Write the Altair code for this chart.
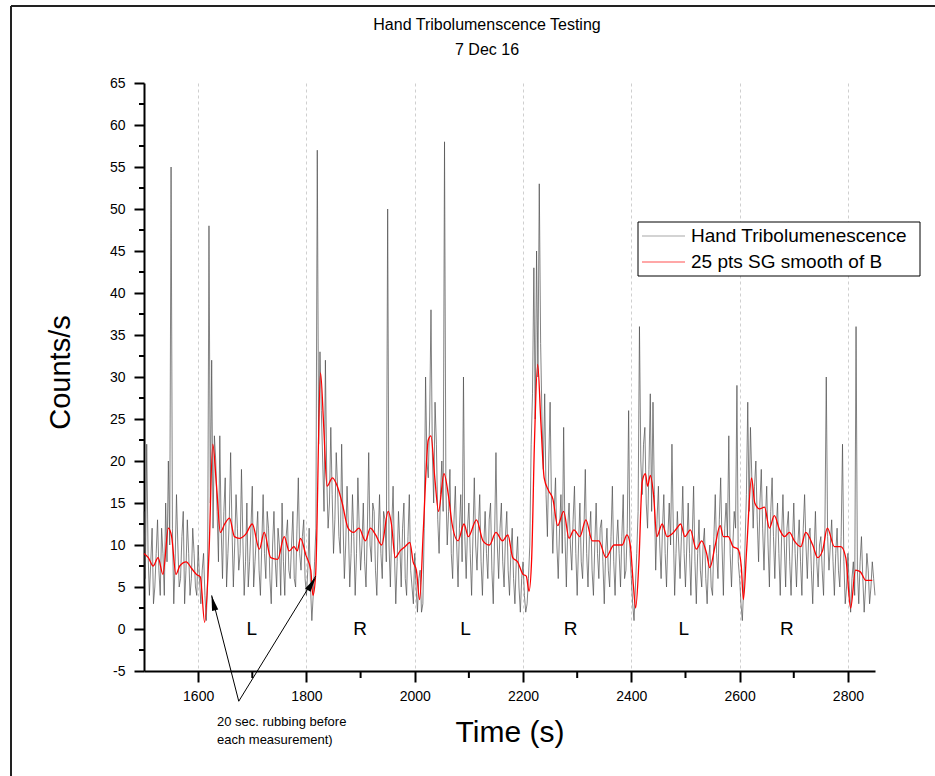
import altair as alt
import pandas as pd

FONT = "Liberation Sans"

# ---------------- data ----------------
# raw counts read on a 5 s grid starting at 1500 s ...
gray_start = 1500
gray_step = 5
gray_values = [
    14, 22, 4, 12, 5, 13, 4, 9, 15, 20, 55, 3, 16, 5, 11, 3, 13, 4, 12, 5,
    10, 3, 9, 1, 48, 32, 23, 14, 23, 6, 18, 9, 21, 5, 16, 7, 19, 4, 15, 8,
    17, 8, 14, 4, 16, 6, 12, 3, 14, 5, 10, 15, 4, 13, 6, 14, 5, 18, 7, 13,
    4, 12, 1, 8, 57, 33, 20, 32, 12, 24, 9, 21, 11, 22, 6, 17, 5, 16, 4, 18,
    7, 15, 5, 21, 8, 14, 4, 16, 6, 13, 50, 5, 17, 3, 14, 5, 15, 4, 16, 5,
    9, 2, 7, 3, 30, 18, 38, 15, 22, 9, 20, 58, 10, 19, 6, 17, 5, 16, 30, 6,
    15, 4, 18, 7, 16, 4, 14, 6, 15, 3, 21, 6, 15, 5, 14, 4, 12, 3, 11, 2,
    8, 2, 6, 22, 43, 45, 53, 25, 28, 11, 27, 9, 18, 6, 16, 24, 5, 15, 7, 17,
    4, 15, 6, 19, 5, 14, 4, 15, 6, 13, 3, 12, 5, 17, 4, 13, 5, 16, 7, 26,
    6, 1, 9, 36, 16, 24, 12, 28, 27, 7, 17, 6, 16, 5, 15, 22, 4, 14, 6, 17,
    5, 15, 4, 17, 3, 13, 5, 12, 3, 10, 4, 16, 6, 18, 4, 15, 23, 5, 14, 29,
    6, 1, 10, 27, 24, 12, 20, 8, 19, 7, 17, 5, 18, 6, 15, 4, 16, 5, 14, 4,
    15, 5, 13, 4, 16, 6, 12, 3, 14, 5, 11, 4, 30, 7, 13, 4, 12, 5, 22, 3,
    9, 2, 8, 36, 3, 11, 2, 9, 3, 8, 4,
]
# ... and the readings in between (1502.5 s, 1507.5 s, ...)
gray_mid_values = [
    6, 9, 8, 3, 9, 7, 12, 4, 8, 10, 12, 8, 10, 6, 14, 7, 9, 6, 9, 4,
    6, 7, 4, 6, 15, 12, 20, 8, 12, 14, 5, 13, 12, 10, 12, 9, 11, 8, 5, 12,
    5, 11, 7, 10, 9, 14, 6, 10, 8, 12, 4, 8, 11, 7, 10, 6, 12, 9, 11, 6,
    7, 5, 4, 12, 22, 26, 14, 18, 15, 16, 13, 17, 9, 13, 10, 12, 9, 11, 9, 12,
    10, 8, 12, 10, 15, 7, 11, 9, 14, 8, 10, 12, 9, 8, 10, 12, 6, 11, 7, 3,
    5, 6, 2, 12, 20, 25, 21, 27, 13, 16, 14, 17, 14, 9, 13, 10, 12, 8, 11, 12,
    9, 11, 10, 12, 8, 10, 9, 13, 7, 11, 10, 12, 8, 11, 7, 9, 6, 8, 5, 6,
    4, 3, 10, 28, 25, 30, 34, 19, 16, 20, 15, 14, 10, 12, 9, 11, 12, 10, 13, 9,
    10, 8, 12, 9, 11, 7, 10, 9, 12, 8, 9, 7, 11, 8, 10, 9, 11, 6, 12, 9,
    3, 5, 14, 20, 22, 15, 19, 14, 16, 13, 10, 12, 9, 11, 10, 12, 9, 10, 11, 9,
    10, 9, 11, 8, 9, 7, 10, 6, 8, 5, 11, 9, 13, 10, 12, 11, 9, 10, 12, 8,
    3, 5, 16, 14, 18, 17, 13, 15, 12, 13, 10, 14, 11, 12, 9, 11, 10, 12, 8, 10,
    9, 10, 8, 12, 10, 11, 7, 9, 8, 10, 7, 12, 11, 10, 8, 9, 7, 11, 8, 5,
    5, 6, 4, 7, 8, 6, 5, 7, 5, 6,
]

red_t = [
    1500, 1508, 1517, 1526, 1535, 1545, 1551, 1559, 1566, 1578,
    1588, 1597, 1604, 1612, 1620, 1627, 1634, 1641, 1649, 1658,
    1667, 1676, 1688, 1700, 1713, 1722, 1734, 1747, 1759, 1768,
    1777, 1783, 1789, 1799, 1808, 1812, 1817, 1826, 1832, 1838,
    1848, 1857, 1866, 1877, 1887, 1897, 1909, 1918, 1927, 1939,
    1951, 1957, 1964, 1973, 1982, 1991, 1997, 2003, 2009, 2016,
    2025, 2030, 2037, 2044, 2054, 2062, 2069, 2080, 2091, 2099,
    2114, 2126, 2138, 2150, 2162, 2172, 2181, 2190, 2200, 2206,
    2211, 2216, 2221, 2227, 2233, 2239, 2247, 2255, 2264, 2275,
    2285, 2294, 2305, 2316, 2328, 2340, 2353, 2368, 2383, 2392,
    2398, 2404, 2408, 2414, 2420, 2426, 2430, 2435, 2441, 2447,
    2457, 2466, 2475, 2484, 2491, 2499, 2509, 2520, 2530, 2539,
    2545, 2555, 2564, 2570, 2579, 2588, 2597, 2603, 2607, 2613,
    2622, 2628, 2637, 2646, 2655, 2664, 2674, 2683, 2692, 2701,
    2713, 2722, 2735, 2744, 2753, 2762, 2775, 2787, 2796, 2805,
    2814, 2823, 2833, 2845,
]
red_v = [
    9.0, 8.5, 7.5, 8.5, 6.5, 12.0, 11.0, 6.5, 7.5, 8.0,
    7.2, 6.5, 6.2, 0.8, 9.0, 22.0, 17.0, 11.5, 12.5, 13.2,
    11.0, 10.8, 11.3, 12.5, 9.5, 11.5, 8.5, 8.3, 11.0, 9.3,
    9.8, 9.3, 10.8, 8.8, 7.0, 4.0, 6.5, 30.5, 24.0, 17.0,
    18.0, 17.0, 15.0, 12.0, 11.5, 12.0, 10.5, 12.0, 11.3, 10.0,
    14.0, 12.5, 8.5, 9.3, 9.8, 10.3, 8.0, 7.0, 3.5, 12.0,
    22.5, 23.0, 18.0, 14.0, 18.5, 16.0, 12.5, 10.5, 12.5, 11.0,
    13.0, 10.5, 10.0, 11.5, 10.5, 11.2, 8.5, 8.0, 6.5, 6.3,
    4.5, 8.5, 22.0, 31.5, 24.5, 18.0, 16.5, 15.5, 12.3, 14.0,
    10.8, 11.8, 11.0, 13.0, 10.5, 10.5, 8.5, 10.0, 10.0, 11.2,
    10.0, 5.0, 2.5, 8.0, 17.5, 18.5, 17.0, 18.3, 16.0, 11.0,
    12.5, 11.0, 11.3, 12.0, 12.5, 11.0, 11.8, 9.5, 10.5, 9.0,
    7.3, 10.0, 12.3, 11.0, 11.0, 9.8, 9.5, 7.5, 3.5, 9.5,
    18.0, 15.0, 14.3, 14.5, 12.0, 13.5, 11.8, 11.0, 11.5, 10.5,
    9.8, 11.5, 10.0, 8.5, 9.3, 12.0, 9.8, 9.8, 8.5, 2.5,
    7.0, 6.8, 5.8, 5.8,
]

x_major = [1600, 1800, 2000, 2200, 2400, 2600, 2800]
x_minor = [1700, 1900, 2100, 2300, 2500, 2700]
y_major = [-5, 0, 5, 10, 15, 20, 25, 30, 35, 40, 45, 50, 55, 60, 65]
y_minor = [-2.5, 2.5, 7.5, 12.5, 17.5, 22.5, 27.5, 32.5, 37.5, 42.5, 47.5, 52.5, 57.5, 62.5]

side_labels = ["L", "R", "L", "R", "L", "R"]
side_t = [1699, 1899, 2094, 2288, 2497, 2687]
side_v = [0.0, 0.0, 0.0, 0.0, 0.0, 0.0]

arrow_tail_t = [1675, 1675]
arrow_tail_v = [-8.6, -8.6]
arrow_tip_t = [1625, 1817]
arrow_tip_v = [4.0, 6.3]
arrow_head_t = [1628, 1810]
arrow_head_v = [3.1, 5.4]
arrow_head_angle = [346, 32]

title_lines = ["Hand Tribolumenscence Testing", "7 Dec 16"]
legend_labels = ["Hand Tribolumenescence", "25 pts SG smooth of B"]
note_lines = ["20 sec. rubbing before", "each measurement)"]

GRAY = "#4d4d4d"
RED = "#ff0000"

# ---------------- layout ----------------
W, H = 731, 588
PAD_L, PAD_T = 144, 83

gray_rows = [(gray_start + i * gray_step, v) for i, v in enumerate(gray_values)]
gray_rows += [(gray_start + gray_step / 2 + i * gray_step, v) for i, v in enumerate(gray_mid_values)]
gray_df = pd.DataFrame(sorted(gray_rows), columns=["t", "v"])
red_df = pd.DataFrame({"t": red_t, "v": red_v})

xscale = alt.Scale(domain=[1500, 2850], nice=False, zero=False)
yscale = alt.Scale(domain=[-5, 65], nice=False, zero=False)

xaxis = alt.Axis(
    values=x_major, format="d", title="Time (s)",
    titleFont=FONT, titleFontSize=30, titleFontWeight="normal", titleColor="black",
    titleY=70, titleBaseline="alphabetic",
    labelFont=FONT, labelFontSize=14, labelColor="black", labelPadding=7,
    labelFlush=False,
    tickSize=11, tickWidth=2, tickColor="black",
    domainColor="black", domainWidth=2,
    grid=True, gridDash=[3, 3], gridColor="#cfcfcf", gridWidth=1,
)
yaxis = alt.Axis(
    values=y_major, title="Counts/s", labelExpr="'' + datum.value",
    titleFont=FONT, titleFontSize=29, titleFontWeight="normal", titleColor="black",
    titleAngle=270, titleX=-84, titleY=289, titleAlign="center", titleBaseline="middle",
    labelFont=FONT, labelFontSize=14, labelColor="black", labelPadding=9,
    labelFlush=False,
    tickSize=10, tickWidth=2, tickColor="black",
    domainColor="black", domainWidth=2, grid=False,
)

gray_line = alt.Chart(gray_df).mark_line(color=GRAY, strokeWidth=0.7).encode(
    x=alt.X("t:Q", scale=xscale, axis=xaxis),
    y=alt.Y("v:Q", scale=yscale, axis=yaxis),
)
red_line = alt.Chart(red_df).mark_line(color=RED, strokeWidth=1.3, interpolate="monotone").encode(
    x=alt.X("t:Q", scale=xscale),
    y=alt.Y("v:Q", scale=yscale),
)

xminor = alt.Chart(pd.DataFrame({"t": x_minor})).mark_rule(color="black", strokeWidth=2).encode(
    x=alt.X("t:Q", scale=xscale),
    y=alt.value(H), y2=alt.value(H + 7),
)
yminor = alt.Chart(pd.DataFrame({"v": y_minor})).mark_rule(color="black", strokeWidth=2).encode(
    y=alt.Y("v:Q", scale=yscale),
    x=alt.value(-5), x2=alt.value(0),
)

sides = alt.Chart(pd.DataFrame({"t": side_t, "v": side_v, "lab": side_labels})).mark_text(
    font=FONT, fontSize=19, color="black", align="center", baseline="middle"
).encode(x=alt.X("t:Q", scale=xscale), y=alt.Y("v:Q", scale=yscale), text="lab:N")

arrows = alt.Chart(pd.DataFrame({
    "t0": arrow_tail_t, "v0": arrow_tail_v, "t1": arrow_tip_t, "v1": arrow_tip_v,
})).mark_rule(color="black", strokeWidth=1).encode(
    x=alt.X("t0:Q", scale=xscale), y=alt.Y("v0:Q", scale=yscale),
    x2="t1:Q", y2="v1:Q",
)
heads = alt.Chart(pd.DataFrame({
    "t": arrow_head_t, "v": arrow_head_v, "a": arrow_head_angle,
})).mark_point(
    shape="M0,-1L0.42,1L-0.42,1Z", filled=True, color="black", opacity=1, size=230
).encode(
    x=alt.X("t:Q", scale=xscale), y=alt.Y("v:Q", scale=yscale),
    angle=alt.Angle("a:Q", scale=None),
)

note = alt.Chart(pd.DataFrame({"k": [0]})).mark_text(
    text=note_lines, font=FONT, fontSize=13, lineHeight=18, align="left", baseline="middle",
    color="black",
).encode(x=alt.value(217 - PAD_L), y=alt.value(722 - PAD_T))

title1 = alt.Chart(pd.DataFrame({"k": [0]})).mark_text(
    text=title_lines[0], font=FONT, fontSize=16, align="center", baseline="middle", color="black"
).encode(x=alt.value(487 - PAD_L), y=alt.value(25 - PAD_T))
title2 = alt.Chart(pd.DataFrame({"k": [0]})).mark_text(
    text=title_lines[1], font=FONT, fontSize=16, align="center", baseline="middle", color="black"
).encode(x=alt.value(487 - PAD_L), y=alt.value(50 - PAD_T))

# legend built from marks
leg_box = alt.Chart(pd.DataFrame({"k": [0]})).mark_rect(
    fill="white", stroke="black", strokeWidth=1
).encode(
    x=alt.value(638 - PAD_L), x2=alt.value(920 - PAD_L),
    y=alt.value(222 - PAD_T), y2=alt.value(276 - PAD_T),
)
leg_gray = alt.Chart(pd.DataFrame({"k": [0]})).mark_rule(color="#a8a8a8", strokeWidth=1.2).encode(
    x=alt.value(642 - PAD_L), x2=alt.value(685 - PAD_L), y=alt.value(236 - PAD_T)
)
leg_red = alt.Chart(pd.DataFrame({"k": [0]})).mark_rule(color="#ff5050", strokeWidth=1.2).encode(
    x=alt.value(642 - PAD_L), x2=alt.value(685 - PAD_L), y=alt.value(262 - PAD_T)
)
leg_t1 = alt.Chart(pd.DataFrame({"k": [0]})).mark_text(
    text=legend_labels[0], font=FONT, fontSize=19, align="left", baseline="middle", color="black"
).encode(x=alt.value(691 - PAD_L), y=alt.value(236 - PAD_T))
leg_t2 = alt.Chart(pd.DataFrame({"k": [0]})).mark_text(
    text=legend_labels[1], font=FONT, fontSize=19, align="left", baseline="middle", color="black"
).encode(x=alt.value(691 - PAD_L), y=alt.value(262 - PAD_T))

# outer figure frame (left and top edges are visible)
frame_left = alt.Chart(pd.DataFrame({"k": [0]})).mark_rule(color="#222222", strokeWidth=2).encode(
    x=alt.value(11 - PAD_L), y=alt.value(6 - PAD_T), y2=alt.value(800)
)
frame_top = alt.Chart(pd.DataFrame({"k": [0]})).mark_rule(color="#222222", strokeWidth=2).encode(
    y=alt.value(6 - PAD_T), x=alt.value(11 - PAD_L), x2=alt.value(900)
)

chart = alt.layer(
    gray_line, red_line, xminor, yminor, sides, arrows, heads, note,
    title1, title2, leg_box, leg_gray, leg_red, leg_t1, leg_t2, frame_left, frame_top,
).properties(
    width=W, height=H,
    autosize=alt.AutoSizeParams(type="none"),
    padding={"left": PAD_L, "top": PAD_T, "right": 935 - PAD_L - W, "bottom": 776 - PAD_T - H},
    background="white",
).configure_view(stroke=None)

chart.save("out.html", embed_options={"renderer": "svg", "actions": False})
